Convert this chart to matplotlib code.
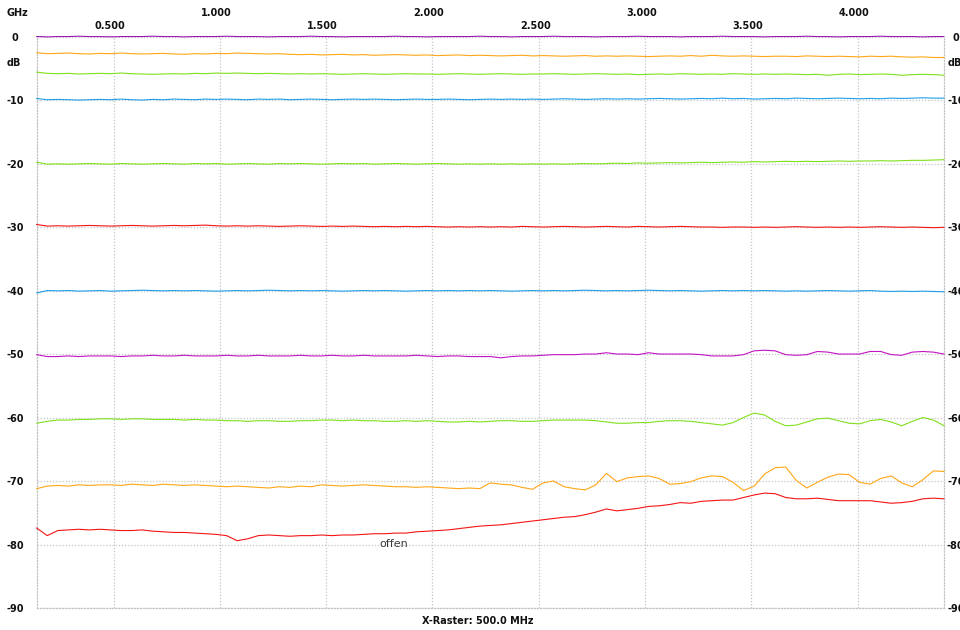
import matplotlib
matplotlib.use("Agg")
import matplotlib.pyplot as plt
from matplotlib import transforms
import numpy as np

# sweep range (GHz)
F_START = 0.138
F_STOP = 4.406

x_ticks = [0.5, 1.0, 1.5, 2.0, 2.5, 3.0, 3.5, 4.0]
x_labels = ['0.500', '1.000', '1.500', '2.000', '2.500', '3.000', '3.500', '4.000']
y_ticks = [0, -10, -20, -30, -40, -50, -60, -70, -80, -90]
y_labels = ['0', '-10', '-20', '-30', '-40', '-50', '-60', '-70', '-80', '-90']

# gemessene Daempfung in dB, je Kurve ueber den ganzen Sweep
s_00 = [0.0, -0.05, 0.0, 0.0, 0.05, 0.0, 0.0, -0.05, 0.0, 0.0, 0.0, 0.05, 0.0, 0.0, -0.05, 0.0, 0.0, 0.0,
        0.05, 0.0, 0.0, 0.0, -0.05, 0.0, 0.0, 0.0, 0.05, 0.0, 0.0, -0.05, 0.0, 0.0, 0.0, 0.0, 0.05, 0.0,
        0.0, -0.05, 0.0, 0.0, 0.0, 0.0, 0.05, 0.0, 0.0, -0.05, 0.0, 0.0, 0.0, 0.05, 0.0, 0.0, 0.0, -0.05,
        0.0, 0.0, 0.0, 0.05, 0.0, 0.0, 0.0, -0.05, 0.0, 0.0, 0.0, 0.05, 0.0, 0.0, 0.0, -0.05, 0.0, 0.0,
        0.0, 0.05, 0.0, 0.0, -0.05, 0.0, 0.0, 0.0, 0.05, 0.0, 0.0, 0.0, -0.05, 0.0, 0.0]
s_03 = [-2.55, -2.7, -2.65, -2.6, -2.7, -2.75, -2.65, -2.7, -2.6, -2.7, -2.75, -2.7, -2.65, -2.75, -2.8,
        -2.7, -2.75, -2.65, -2.7, -2.6, -2.65, -2.7, -2.75, -2.7, -2.8, -2.85, -2.8, -2.9, -2.85, -2.8,
        -2.9, -2.85, -2.95, -2.9, -2.85, -2.9, -2.95, -2.9, -3.0, -2.95, -2.9, -3.0, -2.95, -3.0, -3.05,
        -3.0, -2.95, -3.05, -3.0, -3.05, -3.1, -3.05, -3.0, -3.1, -3.05, -3.1, -3.05, -3.1, -3.15, -3.1,
        -3.05, -3.1, -3.0, -3.1, -2.95, -3.05, -3.1, -3.05, -3.1, -3.15, -3.1, -3.1, -3.15, -3.05, -3.1,
        -3.15, -3.1, -3.15, -3.2, -3.1, -3.15, -3.1, -3.2, -3.25, -3.2, -3.3, -3.3]
s_06 = [-5.6, -5.8, -5.85, -5.8, -5.9, -5.85, -5.8, -5.85, -5.75, -5.85, -5.9, -5.95, -5.9, -5.85, -5.9,
        -5.8, -5.85, -5.75, -5.8, -5.75, -5.8, -5.85, -5.8, -5.85, -5.9, -5.85, -5.9, -5.85, -5.9, -5.95,
        -5.9, -5.85, -5.9, -5.95, -5.9, -5.85, -5.9, -5.9, -5.95, -5.9, -5.85, -5.9, -5.95, -5.9, -5.85,
        -5.9, -5.95, -5.9, -5.9, -5.85, -5.9, -5.95, -5.9, -5.85, -5.9, -5.95, -5.9, -6.0, -5.95, -5.9,
        -5.95, -5.85, -5.9, -5.95, -5.9, -5.95, -5.85, -5.9, -5.95, -5.9, -5.95, -5.9, -5.95, -6.0, -5.95,
        -6.1, -5.95, -5.9, -6.0, -5.95, -5.9, -5.95, -6.1, -6.0, -5.95, -6.0, -6.1]
s_10 = [-9.75, -9.95, -9.9, -9.95, -10.0, -9.95, -9.9, -9.95, -9.85, -9.95, -10.0, -9.9, -9.95, -9.85,
        -9.9, -9.95, -9.85, -9.9, -9.85, -9.9, -9.95, -9.85, -9.9, -9.85, -9.95, -9.9, -9.85, -9.9, -9.95,
        -9.9, -9.85, -9.9, -9.85, -9.9, -9.95, -9.9, -9.85, -9.9, -9.9, -9.85, -9.9, -9.95, -9.9, -9.85,
        -9.9, -9.85, -9.9, -9.85, -9.9, -9.85, -9.8, -9.85, -9.9, -9.85, -9.8, -9.85, -9.8, -9.85, -9.8,
        -9.75, -9.8, -9.85, -9.8, -9.75, -9.8, -9.7, -9.8, -9.75, -9.85, -9.8, -9.75, -9.8, -9.7, -9.75,
        -9.8, -9.75, -9.7, -9.75, -9.8, -9.75, -9.8, -9.7, -9.75, -9.7, -9.65, -9.7, -9.7]
s_20 = [-19.8, -20.1, -20.05, -20.1, -20.05, -20.0, -20.05, -20.1, -20.0, -20.05, -20.1, -20.05, -20.0,
        -20.05, -20.1, -20.0, -20.05, -20.0, -20.1, -20.05, -20.0, -20.05, -20.1, -20.0, -20.05, -20.0,
        -20.05, -20.1, -20.05, -20.0, -20.05, -20.0, -20.1, -20.05, -20.0, -20.05, -20.1, -20.05, -20.0,
        -20.05, -20.1, -20.05, -20.1, -20.05, -20.1, -20.05, -20.1, -20.05, -20.1, -20.05, -20.1, -20.05,
        -20.0, -20.05, -20.0, -19.95, -20.0, -19.9, -19.95, -19.9, -19.85, -19.9, -19.85, -19.8, -19.85,
        -19.8, -19.75, -19.8, -19.7, -19.75, -19.7, -19.65, -19.7, -19.65, -19.7, -19.65, -19.6, -19.65,
        -19.6, -19.6, -19.55, -19.6, -19.55, -19.5, -19.5, -19.45, -19.4]
s_30 = [-29.6, -29.85, -29.8, -29.85, -29.8, -29.75, -29.8, -29.85, -29.8, -29.75, -29.8, -29.85, -29.8,
        -29.75, -29.8, -29.75, -29.7, -29.8, -29.85, -29.8, -29.85, -29.8, -29.85, -29.9, -29.85, -29.8,
        -29.85, -29.9, -29.85, -29.9, -29.85, -29.9, -29.95, -29.9, -29.95, -29.9, -29.95, -29.9, -29.95,
        -30.0, -29.95, -30.0, -29.95, -30.0, -29.95, -30.0, -29.9, -29.95, -30.0, -29.95, -29.9, -29.95,
        -30.0, -29.95, -29.9, -29.95, -30.0, -29.9, -29.95, -30.0, -29.95, -29.9, -29.95, -30.0, -30.0,
        -30.05, -30.0, -30.0, -30.05, -30.0, -30.05, -30.0, -29.95, -30.0, -30.05, -30.0, -30.05, -30.0,
        -30.05, -30.0, -29.95, -30.0, -30.05, -30.0, -30.05, -30.1, -30.05]
s_40 = [-40.4, -40.0, -40.05, -40.0, -40.1, -40.05, -40.0, -40.1, -40.05, -40.0, -39.95, -40.0, -40.05,
        -40.0, -40.05, -40.0, -40.05, -40.1, -40.05, -40.0, -40.05, -40.0, -39.95, -40.0, -40.05, -40.0,
        -40.05, -40.0, -40.05, -40.1, -40.05, -40.0, -40.05, -40.0, -40.05, -40.1, -40.05, -40.0, -40.05,
        -40.0, -40.05, -40.0, -40.05, -40.0, -40.05, -40.1, -40.05, -40.0, -40.05, -40.0, -40.05, -40.0,
        -39.95, -40.0, -40.05, -40.0, -40.05, -40.0, -39.95, -40.0, -40.05, -40.0, -40.05, -40.1, -40.05,
        -40.0, -40.05, -40.0, -40.05, -40.0, -40.05, -40.1, -40.05, -40.1, -40.05, -40.0, -40.05, -40.1,
        -40.05, -40.0, -40.1, -40.15, -40.1, -40.15, -40.1, -40.15, -40.2]
s_50 = [-50.1, -50.4, -50.4, -50.3, -50.4, -50.3, -50.3, -50.3, -50.4, -50.3, -50.3, -50.2, -50.3, -50.3,
        -50.2, -50.3, -50.3, -50.3, -50.2, -50.3, -50.3, -50.2, -50.3, -50.3, -50.3, -50.2, -50.3, -50.3,
        -50.2, -50.3, -50.3, -50.2, -50.3, -50.3, -50.3, -50.3, -50.2, -50.3, -50.4, -50.3, -50.3, -50.4,
        -50.4, -50.4, -50.6, -50.4, -50.3, -50.3, -50.2, -50.1, -50.1, -50.1, -50.0, -50.0, -49.8, -50.0,
        -50.0, -50.1, -49.8, -50.0, -50.0, -50.0, -50.0, -50.1, -50.3, -50.3, -50.3, -50.1, -49.5, -49.4,
        -49.5, -50.1, -50.2, -50.1, -49.6, -49.7, -50.0, -50.0, -50.0, -49.6, -49.6, -50.1, -50.2, -49.7,
        -49.6, -49.7, -50.0]
s_60 = [-60.9, -60.6, -60.4, -60.4, -60.3, -60.3, -60.2, -60.2, -60.3, -60.2, -60.2, -60.3, -60.3, -60.3,
        -60.4, -60.3, -60.4, -60.4, -60.5, -60.5, -60.6, -60.5, -60.5, -60.6, -60.6, -60.5, -60.5, -60.4,
        -60.4, -60.5, -60.4, -60.5, -60.5, -60.6, -60.6, -60.5, -60.6, -60.5, -60.6, -60.7, -60.7, -60.6,
        -60.7, -60.6, -60.5, -60.5, -60.6, -60.6, -60.5, -60.4, -60.4, -60.4, -60.4, -60.5, -60.7, -60.9,
        -60.9, -60.8, -60.8, -60.6, -60.5, -60.5, -60.6, -60.8, -61.0, -61.2, -60.8, -60.0, -59.3, -59.6,
        -60.6, -61.3, -61.2, -60.7, -60.2, -60.1, -60.5, -60.9, -61.0, -60.5, -60.3, -60.7, -61.3, -60.6,
        -60.0, -60.4, -61.3]
s_70 = [-71.2, -70.8, -70.7, -70.8, -70.6, -70.7, -70.6, -70.6, -70.7, -70.5, -70.6, -70.7, -70.5, -70.6,
        -70.7, -70.6, -70.7, -70.8, -70.9, -70.8, -70.9, -71.0, -71.1, -70.9, -71.0, -70.8, -70.9, -70.6,
        -70.7, -70.8, -70.7, -70.6, -70.7, -70.8, -70.9, -70.9, -71.0, -70.9, -71.0, -71.1, -71.2, -71.1,
        -71.2, -70.3, -70.5, -70.6, -71.0, -71.3, -70.3, -70.0, -70.9, -71.2, -71.4, -70.6, -68.8, -70.1,
        -69.5, -69.3, -69.2, -69.6, -70.5, -70.4, -70.1, -69.5, -69.2, -69.3, -70.2, -71.5, -70.8, -68.9,
        -67.9, -67.8, -69.9, -71.1, -70.2, -69.4, -68.9, -69.0, -70.2, -70.5, -69.6, -69.2, -70.3, -70.9,
        -69.8, -68.4, -68.5]
s_off = [-77.4, -78.6, -77.8, -77.7, -77.6, -77.7, -77.6, -77.7, -77.8, -77.8, -77.7, -77.9, -78.0, -78.1,
         -78.1, -78.2, -78.3, -78.4, -78.6, -79.4, -79.1, -78.6, -78.5, -78.6, -78.7, -78.6, -78.6, -78.5,
         -78.6, -78.5, -78.5, -78.4, -78.3, -78.3, -78.2, -78.2, -78.0, -77.9, -77.8, -77.7, -77.5, -77.3,
         -77.1, -77.0, -76.9, -76.7, -76.5, -76.3, -76.1, -75.9, -75.7, -75.6, -75.3, -74.9, -74.4, -74.7,
         -74.5, -74.3, -74.0, -73.9, -73.7, -73.4, -73.5, -73.2, -73.1, -73.0, -73.0, -72.6, -72.2, -71.9,
         -72.0, -72.6, -72.8, -72.8, -72.7, -72.9, -73.1, -73.1, -73.1, -73.1, -73.3, -73.5, -73.4, -73.2,
         -72.8, -72.7, -72.8]

ORANGE = '#ffa617'
GREEN = '#80e01c'
BLUE = '#1e9fe8'
RED = '#f41414'
traces = [(s_00, '#9a1ab0'), (s_03, ORANGE), (s_06, GREEN), (s_10, BLUE), (s_20, GREEN),
          (s_30, RED), (s_40, BLUE), (s_50, '#c414c4'), (s_60, GREEN), (s_70, ORANGE), (s_off, RED)]

fig = plt.figure(figsize=(9.6, 6.3), dpi=100)
ax = fig.add_axes([0.0382, 0.0349, 0.9451, 0.9071])
ax.set_xlim(F_START, F_STOP)
ax.set_ylim(-90, 0)

for vals, col in traces:
    f = np.linspace(F_START, F_STOP, len(vals))
    ax.plot(f, vals, color=col, linewidth=0.8, clip_on=False, zorder=3)

# Raster
grid_style = dict(color='#c4c4c4', linestyle=(0, (1, 1.5)), linewidth=0.9)
ax.set_xticks(x_ticks)
ax.set_yticks(y_ticks)
ax.grid(True, **grid_style)
for side in ['left', 'right', 'bottom']:
    ax.spines[side].set(**grid_style)
ax.spines['top'].set_visible(False)

tick_font = dict(fontsize=7, fontweight='bold', color='#111111')
ax.set_xticklabels([])
ax.set_yticklabels(y_labels, **tick_font)
ax.tick_params(axis='both', length=0)
ax.tick_params(axis='y', labelright=True)
for t in ax.yaxis.get_major_ticks():
    t.label1.set_ha('center')
    t.label2.set_ha('center')
    t.label1.set(**tick_font)
    t.label2.set(**tick_font)
    t.label1.set_text(t.label1.get_text())
ax.tick_params(axis='y', which='major', pad=15.5)
for t in ax.yaxis.get_major_ticks():
    t.set_pad(15.5)
# rechte Beschriftung naeher am Rand
for t in ax.yaxis.get_major_ticks():
    t.label2.set_transform(ax.get_yaxis_text2_transform(8.5)[0])
    t.label1.set_transform(ax.get_yaxis_text1_transform(15.5)[0])

# Frequenzbeschriftung oben, zweizeilig versetzt
xtrans = transforms.offset_copy(transforms.blended_transform_factory(ax.transData, fig.transFigure),
                                fig=fig, x=-3.5, units='dots')
for i, (xv, lab) in enumerate(zip(x_ticks, x_labels)):
    yv = 0.9595 if i % 2 == 0 else 0.9786
    ax.text(xv, yv, lab, transform=xtrans, ha='center', va='center', **tick_font)

fig.text(17 / 960, 0.9786, 'GHz', ha='center', va='center', **tick_font)
dbtrans_l = transforms.blended_transform_factory(fig.transFigure, ax.transData)
fig.text(14 / 960, -4.2, 'dB', transform=dbtrans_l, ha='center', va='center', **tick_font)
fig.text(955 / 960, -4.2, 'dB', transform=dbtrans_l, ha='center', va='center', **tick_font)

fig.text(478 / 960, 1 - 621 / 630, 'X-Raster: 500.0 MHz', ha='center', va='center', **tick_font)
ax.text(1.82, -79.9, 'offen', ha='center', va='center', fontsize=8, color='#3a3a3a')

fig.savefig('out.png', dpi=100)
